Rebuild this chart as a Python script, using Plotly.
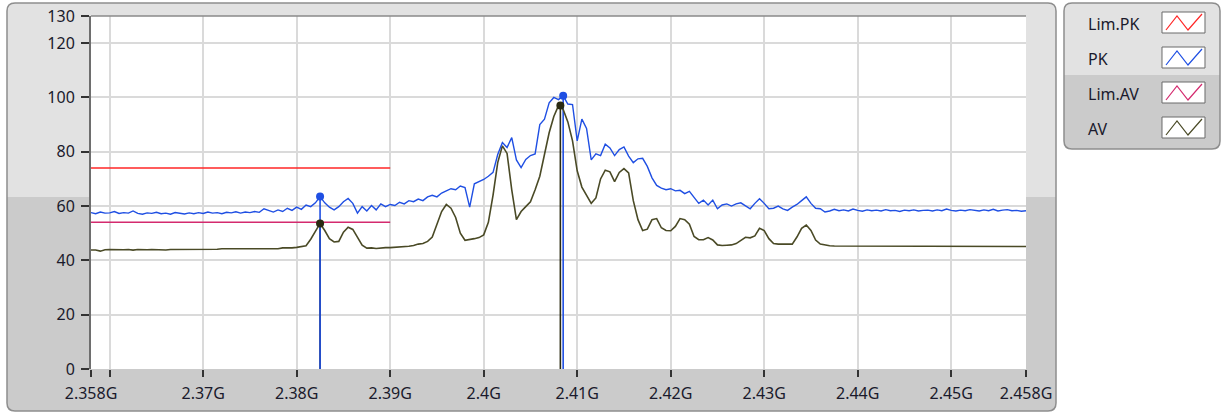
import plotly.graph_objects as go

# ---------------- data ----------------
F_START = 2.358      # GHz, first sample
F_STEP = 0.0005      # GHz between samples
freq = [round(F_START + F_STEP * i, 4) for i in range(201)]

pk = [
    57.6, 57.2, 57.8, 57.4, 57.5, 58.0, 57.3, 57.6, 57.4, 58.2,
    57.3, 57.0, 57.5, 57.3, 57.7, 57.2, 57.4, 57.0, 57.6, 57.3,
    57.1, 57.5, 57.2, 57.6, 57.3, 57.8, 57.4, 57.6, 57.2, 57.7,
    57.5, 57.9, 57.4, 57.8, 57.6, 58.0, 57.7, 59.0, 58.3, 57.8,
    58.6, 58.0, 59.2, 58.4, 59.6, 58.8, 60.4, 59.8, 61.2, 63.5,
    61.2, 59.6, 58.6, 59.8, 61.6, 62.8, 61.0, 57.4, 59.8, 58.2,
    60.2, 58.6, 60.8, 59.8, 60.6, 60.2, 61.4, 60.8, 62.0, 61.6,
    62.6, 62.0, 63.4, 64.0, 63.4, 64.8, 65.6, 66.4, 66.0, 67.4,
    66.8, 59.6, 68.2, 69.0, 69.8, 71.0, 72.4, 79.0, 83.4, 81.6,
    85.2, 77.0, 74.2, 77.2, 78.6, 79.2, 90.0, 92.0, 98.0, 100.0,
    99.2, 100.6, 97.6, 97.4, 84.0, 92.0, 88.6, 77.0, 79.2, 78.6,
    82.8, 81.4, 78.6, 80.8, 81.8, 78.4, 76.0, 77.4, 77.6, 74.6,
    70.4, 67.6, 66.6, 66.0, 66.4, 65.6, 65.8, 64.6, 65.4, 63.2,
    61.0, 62.2, 60.4, 62.2, 59.0, 60.4, 60.8, 60.0, 60.8, 61.2,
    60.2, 59.0, 61.0, 62.7, 61.0, 59.0, 59.2, 60.0, 59.0, 58.4,
    59.6, 60.6, 62.0, 63.4, 61.0, 59.2, 59.0, 57.8, 58.2, 58.8,
    58.3, 58.6, 58.2, 58.9, 58.4, 58.1, 58.6, 58.3, 58.5, 58.2,
    58.7, 58.3, 58.4, 58.0, 58.5, 58.3, 58.6, 58.2, 58.4, 58.5,
    58.2, 58.6, 58.3, 58.9, 58.4, 58.2, 58.5, 58.3, 58.7, 58.4,
    58.2, 58.6, 58.3, 58.8, 58.2, 58.5, 58.7, 58.3, 58.4, 58.1,
    58.3,
]

av = [
    43.8, 43.8, 43.4, 43.9, 44.0, 43.9, 44.0, 43.9, 44.0, 43.8,
    44.0, 43.9, 43.9, 44.0, 43.9, 44.0, 43.8, 44.0, 44.0, 43.9,
    44.0, 44.0, 43.9, 44.0, 44.0, 44.1, 44.0, 44.1, 44.3, 44.4,
    44.3, 44.3, 44.3, 44.2, 44.3, 44.3, 44.3, 44.3, 44.3, 44.4,
    44.3, 44.6, 44.5, 44.6, 44.8, 45.0, 45.4, 47.8, 50.6, 53.6,
    51.0, 48.0, 46.8, 47.0, 50.4, 52.2, 51.4, 48.6, 45.6, 44.5,
    44.6, 44.4, 44.6, 44.7, 44.7, 44.8, 45.0, 45.0, 45.2, 45.5,
    46.0, 46.2, 47.0, 48.6, 53.5, 58.0, 60.6, 59.2, 55.8, 50.0,
    47.4, 47.6, 48.0, 48.4, 49.4, 54.0, 64.0, 76.0, 82.2, 79.4,
    66.0, 55.0, 58.0, 59.8, 61.6, 66.0, 71.0, 79.0, 87.0, 93.0,
    97.0, 95.6, 91.0, 84.0, 73.0, 67.0, 64.0, 61.0, 63.0, 70.0,
    73.2, 72.6, 69.0, 72.4, 73.8, 72.2, 62.0, 55.0, 51.0, 51.5,
    55.0, 55.4, 52.0, 51.0, 50.9, 52.5, 55.4, 55.0, 53.3, 48.8,
    47.6, 47.6, 48.4, 47.5, 45.7, 45.5, 45.6, 45.7, 46.2, 47.5,
    48.5, 48.3, 49.0, 51.8, 51.0, 48.0, 46.2, 46.0, 46.1, 46.0,
    46.0, 48.6, 51.8, 53.0, 51.0, 47.5, 46.0, 45.6, 45.4, 45.3,
    45.3, 45.2, 45.1, 45.1, 45.2, 45.1, 45.1, 45.1, 45.2, 45.1,
    45.1, 45.1, 45.1, 45.1, 45.1, 45.1, 45.2, 45.1, 45.1, 45.1,
    45.1, 45.1, 45.3, 45.1, 45.1, 45.1, 45.1, 45.1, 45.1, 45.1,
    45.1, 45.1, 45.1, 45.1, 45.1, 45.1, 45.1, 45.1, 45.1, 45.1,
    45.1,
]

lim_freq = [2.358, 2.39]
lim_pk = [74, 74]
lim_av = [54, 54]

cursor_freq_pk = [2.3825, 2.4085]
cursor_val_pk = [63.5, 100.6]
cursor_freq_av = [2.3825, 2.4082]
cursor_val_av = [53.6, 97.0]

x_tickvals = [2.358, 2.36, 2.37, 2.38, 2.39, 2.40, 2.41, 2.42, 2.43, 2.44, 2.45, 2.458]
x_ticktext = ["2.358G", "", "2.37G", "2.38G", "2.39G", "2.4G", "2.41G",
              "2.42G", "2.43G", "2.44G", "2.45G", "2.458G"]
y_tickvals = [0, 20, 40, 60, 80, 100, 120, 130]

legend_names = ["Lim.PK", "PK", "Lim.AV", "AV"]

# ---------------- styling ----------------
C_PK = "#1f4fe3"
C_AV = "#4a4a26"
C_AV_MK = "#2a2a12"
C_LIMPK = "#ff2626"
C_LIMAV = "#d42a6e"
TXT = "#1a1a2c"
FONT = "Noto Sans"
FS = 16

W, H = 1223, 414
ML, MR, MT, MB = 91, 197, 16, 45


def fx(p):
    return (p - ML) / (W - ML - MR)


def fy(p):
    return (H - MB - p) / (H - MT - MB)


def rrect(x0, y0, x1, y1, rt, rb):
    pts = [
        ("M", [(x0 + rt, y0)]),
        ("L", [(x1 - rt, y0)]),
        ("Q", [(x1, y0), (x1, y0 + rt)]),
        ("L", [(x1, y1 - rb)]),
        ("Q", [(x1, y1), (x1 - rb, y1)]),
        ("L", [(x0 + rb, y1)]),
        ("Q", [(x0, y1), (x0, y1 - rb)]),
        ("L", [(x0, y0 + rt)]),
        ("Q", [(x0, y0), (x0 + rt, y0)]),
    ]
    s = ""
    for cmd, ps in pts:
        s += cmd + " " + " ".join(f"{fx(a):.5f},{fy(b):.5f}" for a, b in ps) + " "
    return s + "Z"


def poly(points):
    return "M " + " L ".join(f"{fx(a):.5f},{fy(b):.5f}" for a, b in points)


shapes = []
# main frame
shapes.append(dict(type="path", xref="paper", yref="paper", layer="below",
                   path=rrect(7, 3, 1056, 411, 8, 8), fillcolor="#cbcbcb",
                   line=dict(width=0)))
shapes.append(dict(type="path", xref="paper", yref="paper", layer="below",
                   path=rrect(7, 3, 1056, 197, 8, 0), fillcolor="#e2e2e2",
                   line=dict(width=0)))
shapes.append(dict(type="path", xref="paper", yref="paper", layer="below",
                   path=rrect(7, 3, 1056, 411, 8, 8), fillcolor="rgba(0,0,0,0)",
                   line=dict(color="#8e8e8e", width=1.5)))
# legend frame
shapes.append(dict(type="path", xref="paper", yref="paper", layer="below",
                   path=rrect(1064, 3, 1220, 149, 8, 8), fillcolor="#cbcbcb",
                   line=dict(width=0)))
shapes.append(dict(type="path", xref="paper", yref="paper", layer="below",
                   path=rrect(1064, 3, 1220, 75, 8, 0), fillcolor="#e2e2e2",
                   line=dict(width=0)))
shapes.append(dict(type="path", xref="paper", yref="paper", layer="below",
                   path=rrect(1064, 3, 1220, 149, 8, 8), fillcolor="rgba(0,0,0,0)",
                   line=dict(color="#8e8e8e", width=1.5)))
# plot area
shapes.append(dict(type="rect", xref="paper", yref="paper", layer="below",
                   x0=0, x1=1, y0=0, y1=1, fillcolor="white", line=dict(width=0)))
shapes.append(dict(type="line", xref="paper", yref="paper", layer="above",
                   x0=0, x1=1, y0=1, y1=1, line=dict(color="#8a8a8a", width=1.5)))

annotations = []
legend_colors = [C_LIMPK, C_PK, C_LIMAV, C_AV]
for k, (name, col) in enumerate(zip(legend_names, legend_colors)):
    top = 12 + 35 * k
    shapes.append(dict(type="path", xref="paper", yref="paper", layer="above",
                       path=poly([(1162, top), (1205, top), (1205, top + 21),
                                  (1162, top + 21)]) + " Z",
                       fillcolor="white", line=dict(color="#6a6a6a", width=1)))
    shapes.append(dict(type="path", xref="paper", yref="paper", layer="above",
                       path=poly([(1166, top + 18), (1177, top + 4),
                                  (1188, top + 18), (1202, top + 2)]),
                       line=dict(color=col, width=1.2)))
    annotations.append(dict(xref="paper", yref="paper", x=fx(1086), y=fy(top + 12),
                            xanchor="left", yanchor="middle", showarrow=False,
                            text=name, font=dict(family=FONT, size=FS, color=TXT)))

# ---------------- traces ----------------
def cursor_lines(fs, vs):
    xs, ys = [], []
    for f, v in zip(fs, vs):
        xs += [f, f, None]
        ys += [0, v, None]
    return xs, ys


fig = go.Figure()
xa, ya = cursor_lines(cursor_freq_av, cursor_val_av)
fig.add_trace(go.Scatter(x=xa, y=ya, mode="lines", line=dict(color=C_AV_MK, width=1.6),
                         hoverinfo="skip", showlegend=False))
xp, yp = cursor_lines(cursor_freq_pk, cursor_val_pk)
fig.add_trace(go.Scatter(x=xp, y=yp, mode="lines", line=dict(color=C_PK, width=1.6),
                         hoverinfo="skip", showlegend=False))
fig.add_trace(go.Scatter(x=freq, y=av, mode="lines", name="AV",
                         line=dict(color=C_AV, width=1.6), showlegend=False))
fig.add_trace(go.Scatter(x=freq, y=pk, mode="lines", name="PK",
                         line=dict(color=C_PK, width=1.4), showlegend=False))
fig.add_trace(go.Scatter(x=lim_freq, y=lim_pk, mode="lines", name="Lim.PK",
                         line=dict(color=C_LIMPK, width=1.5), showlegend=False))
fig.add_trace(go.Scatter(x=lim_freq, y=lim_av, mode="lines", name="Lim.AV",
                         line=dict(color=C_LIMAV, width=1.5), showlegend=False))
fig.add_trace(go.Scatter(x=cursor_freq_pk, y=cursor_val_pk, mode="markers",
                         marker=dict(color=C_PK, size=8), showlegend=False))
fig.add_trace(go.Scatter(x=cursor_freq_av, y=cursor_val_av, mode="markers",
                         marker=dict(color=C_AV_MK, size=8), showlegend=False))

fig.update_layout(
    width=W, height=H,
    margin=dict(l=ML, r=MR, t=MT, b=MB, pad=0, autoexpand=False),
    paper_bgcolor="white",
    plot_bgcolor="rgba(0,0,0,0)",
    font=dict(family=FONT, size=FS, color=TXT),
    shapes=shapes,
    annotations=annotations,
    showlegend=False,
    xaxis=dict(range=[2.358, 2.458], tickmode="array", tickvals=x_tickvals,
               ticktext=x_ticktext, ticks="outside", ticklen=7, tickwidth=1.5,
               tickcolor="#333333", showgrid=True, gridcolor="#dadada", gridwidth=1.5,
               showline=False, zeroline=False, automargin=False,
               ticklabelstandoff=3,
               tickfont=dict(family=FONT, size=FS, color=TXT)),
    yaxis=dict(range=[0, 130], tickmode="array", tickvals=y_tickvals,
               ticks="outside", ticklen=8, tickwidth=1.5, tickcolor="#333333",
               showgrid=True, gridcolor="#dadada", gridwidth=1.5,
               showline=True, linecolor="#6e6e6e", linewidth=2, zeroline=False,
               ticklabelstandoff=3, automargin=False,
               tickfont=dict(family=FONT, size=FS, color=TXT)),
)

fig.write_html("out.html",
               config={"displayModeBar": False},
               post_script="document.body.style.margin='0';document.body.style.overflow='hidden';")
